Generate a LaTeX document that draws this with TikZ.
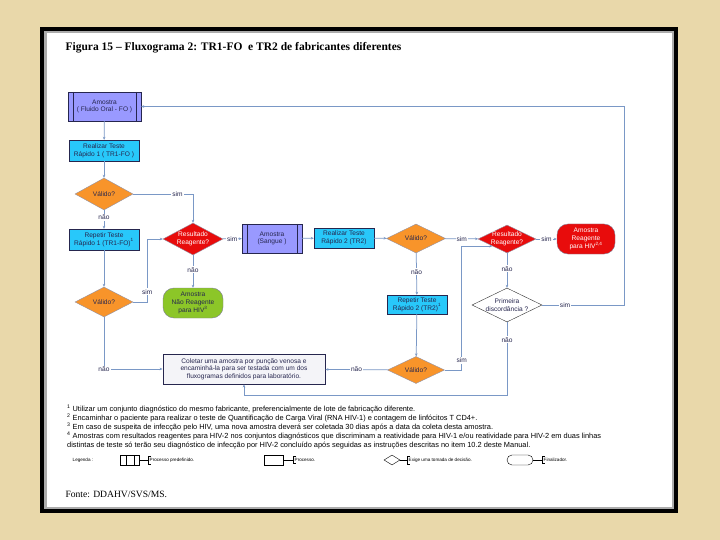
\documentclass[tikz,border=0pt]{standalone}
\usepackage{fontspec}
\setmainfont{Liberation Serif}
\setsansfont{Liberation Sans}
\usetikzlibrary{shapes.geometric, arrows.meta, positioning, calc}
\definecolor{moldura}{RGB}{233,216,170}
\definecolor{predefroxo}{RGB}{153,153,255}
\definecolor{testeciano}{RGB}{40,200,250}
\definecolor{decisaolaranja}{RGB}{248,148,42}
\definecolor{reagvermelho}{RGB}{232,12,12}
\definecolor{naoreagverde}{RGB}{140,198,40}
\definecolor{linhaazul}{RGB}{122,152,198}
\definecolor{bordaescura}{RGB}{38,38,78}
\definecolor{coletarcinza}{RGB}{244,244,248}
\newcommand{\diagfont}{\sffamily\fontsize{6.6}{7.6}\selectfont}

\begin{document}
\begin{tikzpicture}[
    x=1pt, y=-1pt,
    predef/.style={draw=bordaescura, fill=predefroxo, minimum width=73pt,
                   minimum height=29pt, inner sep=1pt, align=center,
                   font=\diagfont, text=bordaescura,
                   path picture={
                     \draw[bordaescura] ([xshift=5pt]path picture bounding box.north west)
                       -- ([xshift=5pt]path picture bounding box.south west);
                     \draw[bordaescura] ([xshift=-5pt]path picture bounding box.north east)
                       -- ([xshift=-5pt]path picture bounding box.south east);}},
    teste/.style={draw=bordaescura, fill=testeciano, minimum width=70pt,
                  minimum height=21pt, inner sep=1pt, align=center,
                  font=\diagfont, text=bordaescura},
    decisao/.style={diamond, draw=bordaescura!50, fill=decisaolaranja, aspect=2,
                    inner sep=-1pt, minimum width=58pt, minimum height=30pt,
                    align=center, font=\diagfont, text=bordaescura},
    termino/.style={draw=bordaescura!60, rounded corners=11pt, minimum width=60pt,
                    minimum height=30pt, inner sep=1pt, align=center, font=\diagfont},
    seta/.style={-{Stealth[length=3pt, width=2.6pt]}, draw=linhaazul, line width=0.75pt},
    linha/.style={draw=linhaazul, line width=0.75pt},
    rot/.style={font=\diagfont, fill=white, inner sep=1pt, text=bordaescura},
    legtxt/.style={font=\sffamily\fontsize{4.6}{5.5}\selectfont, anchor=west, inner sep=1.5pt},
]
    \useasboundingbox (0,0) rectangle (720,540);
    % moldura e folha
    \fill[moldura] (0,0) rectangle (720,540);
    \fill[black] (40,27) rectangle (678,513);
    \fill[gray!65] (44,31) rectangle (674,509);
    \fill[white] (46.5,33.5) rectangle (671.5,506.5);

    \node[anchor=west, font=\bfseries\fontsize{11.5}{13}\selectfont] (titulo) at (62,48)
        {Figura 15 – Fluxograma 2: TR1-FO\ \ e TR2 de fabricantes diferentes};

    % coluna do TR1
    \node[predef] (amFO) at (104.5,106.5) {Amostra\\( Fluido Oral - FO )};
    \node[teste] (tr1) at (104,150.5) {Realizar Teste\\Rápido 1 ( TR1-FO )};
    \node[decisao, minimum height=32pt] (val1) at (104,194) {Válido?};
    \node[teste] (rep1) at (104,239.5) {Repetir Teste\\Rápido 1 (TR1-FO)\textsuperscript{1}};
    \node[decisao] (val2) at (104,302) {Válido?};

    \node[decisao, fill=reagvermelho, text=white, minimum width=60pt, minimum height=32pt]
        (res1) at (193,239) {Resultado\\Reagente?};
    \node[termino, fill=naoreagverde, text=bordaescura] (naoreag) at (193,303)
        {Amostra\\Não Reagente\\para HIV\textsuperscript{3}};

    % linha do TR2
    \node[predef, minimum width=60pt] (amSg) at (272,238.5) {Amostra\\(Sangue )};
    \node[teste, minimum width=60pt, minimum height=20pt] (tr2) at (344,238) {Realizar Teste\\Rápido 2 (TR2)};
    \node[decisao, minimum width=59pt, minimum height=29pt] (val3) at (416,238.5) {Válido?};
    \node[teste, minimum width=60pt, minimum height=19pt] (rep2) at (417,304.5)
        {Repetir Teste\\Rápido 2 (TR2)\textsuperscript{1}};
    \node[decisao, minimum width=57pt, minimum height=27pt] (val4) at (416,370) {Válido?};

    \node[decisao, fill=reagvermelho, text=white, minimum height=28pt]
        (res2) at (507,239) {Resultado\\Reagente?};
    \node[termino, fill=reagvermelho, text=white, minimum width=58pt] (reag) at (586,239)
        {Amostra\\Reagente\\para HIV\textsuperscript{2,4}};
    \node[decisao, fill=white, draw=black!80, minimum width=70pt, minimum height=34pt]
        (prim) at (507,305) {Primeira\\discordância ?};

    \node[draw=bordaescura, line width=0.9pt, fill=coletarcinza, minimum width=162pt,
          minimum height=30pt, inner sep=1pt, align=center, font=\diagfont, text=bordaescura]
        (coletar) at (244,369)
        {Coletar uma amostra por punção venosa e\\encaminhá-la para ser testada com um dos\\fluxogramas definidos para laboratório.};
    \coordinate (desvio) at (507,395);

    % conexoes
    \draw[seta] (amFO) -- (tr1);
    \draw[seta] (tr1) -- (val1);
    \draw[seta] (val1) -- node[rot, pos=0.4] {não} (rep1);
    \draw[seta] (rep1) -- (val2);
    \draw[seta] (val1.east) -| node[rot, pos=0.37] {sim} (res1.north);
    \draw[seta] (val2.east) -- ++(14,0) |- node[rot, pos=0.08] {sim} (res1.west);
    \draw[seta] (val2.south) |- node[rot, pos=0.5] {não} (coletar.west);
    \draw[seta] (res1) -- node[rot] {sim} (amSg);
    \draw[seta] (res1) -- node[rot, pos=0.45] {não} (naoreag);
    \draw[seta] (amSg) -- (tr2);
    \draw[seta] (tr2) -- (val3);
    \draw[seta] (val3) -- node[rot] {sim} (res2);
    \draw[seta] (val3) -- node[rot, pos=0.45] {não} (rep2);
    \draw[seta] (rep2) -- (val4);
    \draw[seta] (val4) -- node[rot] {não} (coletar);
    \draw[seta] (val4.east) -- ++(17,0) |- node[rot, pos=0.04] {sim} (res2.south west);
    \draw[seta] (res2) -- node[rot] {sim} (reag);
    \draw[seta] (res2) -- node[rot, pos=0.45] {não} (prim);
    \draw[seta] (prim.east) -- node[rot, pos=0.28] {sim} (624,305) |- (amFO.east);
    \draw[seta] (prim.south) -- node[rot, pos=0.24] {não} (desvio) -| (coletar.south);

    % notas
    \node[anchor=north west, align=left, inner sep=0pt,
          font=\sffamily\fontsize{7.4}{9}\selectfont] (notas) at (67,405)
        {\textsuperscript{1} Utilizar um conjunto diagnóstico do mesmo fabricante, preferencialmente de lote de fabricação diferente.\\
         \textsuperscript{2} Encaminhar o paciente para realizar o teste de Quantificação de Carga Viral (RNA HIV-1) e contagem de linfócitos T CD4+.\\
         \textsuperscript{3} Em caso de suspeita de infecção pelo HIV, uma nova amostra deverá ser coletada 30 dias após a data da coleta desta amostra.\\
         \textsuperscript{4} Amostras com resultados reagentes para HIV-2 nos conjuntos diagnósticos que discriminam a reatividade para HIV-1 e/ou reatividade para HIV-2 em duas linhas\\
         distintas de teste só terão seu diagnóstico de infecção por HIV-2 concluído após seguidas as instruções descritas no item 10.2 deste Manual.};

    % legenda
    \node[legtxt] (legenda) at (71,460) {Legenda :};
    \node[draw, minimum width=19pt, minimum height=10pt, inner sep=0pt,
          path picture={
            \draw ([xshift=6pt]path picture bounding box.north west) -- ([xshift=6pt]path picture bounding box.south west);
            \draw ([xshift=-5pt]path picture bounding box.north east) -- ([xshift=-5pt]path picture bounding box.south east);}]
        (legpredef) at (129.5,460) {};
    \node[legtxt] (legpredeftxt) at (148,460) {Processo predefinido.};
    \node[draw, minimum width=19pt, minimum height=10pt, inner sep=0pt] (legproc) at (273.5,460) {};
    \node[legtxt] (legproctxt) at (293,460) {Processo.};
    \node[draw, diamond, aspect=1.6, minimum width=16pt, minimum height=10pt, inner sep=0pt] (legdec) at (392,460) {};
    \node[legtxt] (legdectxt) at (407,460) {Exige uma tomada de decisão.};
    \node[draw, rounded corners=5pt, minimum width=26pt, minimum height=10pt, inner sep=0pt] (legfim) at (520,460) {};
    \node[legtxt] (legfimtxt) at (542,460) {Finalizador.};
    \draw (legpredef) -- (legpredeftxt);
    \draw (legproc) -- (legproctxt);
    \draw (legdec) -- (legdectxt);
    \draw (legfim) -- (legfimtxt);
    \draw ([xshift=3pt]legpredeftxt.north west) -- (legpredeftxt.north west) -- (legpredeftxt.south west) -- ([xshift=3pt]legpredeftxt.south west);
    \draw ([xshift=3pt]legproctxt.north west) -- (legproctxt.north west) -- (legproctxt.south west) -- ([xshift=3pt]legproctxt.south west);
    \draw ([xshift=3pt]legdectxt.north west) -- (legdectxt.north west) -- (legdectxt.south west) -- ([xshift=3pt]legdectxt.south west);
    \draw ([xshift=3pt]legfimtxt.north west) -- (legfimtxt.north west) -- (legfimtxt.south west) -- ([xshift=3pt]legfimtxt.south west);

    \node[anchor=west, font=\fontsize{9.6}{11}\selectfont] (fonte) at (62,494) {Fonte: DDAHV/SVS/MS.};
\end{tikzpicture}
\end{document}
